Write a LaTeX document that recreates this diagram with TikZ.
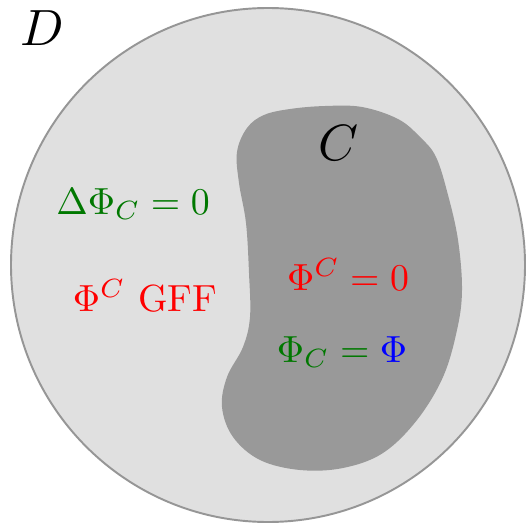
\documentclass[tikz,border=0pt]{standalone}
\usepackage{amsmath}
\usepackage{graphicx}
\usepackage{xcolor}
\usepackage{tikz}
\definecolor{domaingray}{RGB}{224, 224, 224}
\definecolor{clustergray}{RGB}{153, 153, 153}
\definecolor{rimgray}{RGB}{150, 150, 150}
\definecolor{fieldgreen}{RGB}{0, 120, 0}
\newcommand{\biglbl}[1]{\scalebox{2.9}{#1}}
\newcommand{\eqlbl}[1]{\scalebox{2.15}{#1}}

\begin{document}
\begin{tikzpicture}[x=0.02cm, y=-0.02cm,
    biglabel/.style={inner sep=0pt},
    eqlabel/.style={inner sep=0pt, anchor=base}]
    \useasboundingbox (0,0) rectangle (525,527);
    % domain D
    \draw[fill=domaingray, draw=rimgray, line width=1.1pt] (268,265) circle[radius=257];
    % cluster C
    \fill[clustergray] plot[smooth cycle, tension=0.6] coordinates {
        (290,109) (325,106) (362,107) (398,119) (420,137) (436,157)
        (448,195) (458,240) (462,290) (457,330) (443,377) (417,420) (383,453)
        (343,468) (300,470) (260,460) (233,437) (222,407) (227,377) (243,347)
        (250,317) (249,273) (246,223) (239,183) (237,152) (247,128) (264,115)};
    \node[biglabel] (labelD) at (42,28) {\biglbl{$D$}};
    \node[biglabel] (labelC) at (339,143) {\biglbl{$C$}};
    \node[eqlabel, text=fieldgreen] (harmonic) at (133,214) {\eqlbl{$\Delta\Phi_C = 0$}};
    \node[eqlabel, text=red] (gff) at (145,311) {\eqlbl{$\Phi^C$ GFF}};
    \node[eqlabel, text=red] (zero) at (348,290) {\eqlbl{$\Phi^C = 0$}};
    \node[eqlabel, text=fieldgreen] (equal) at (342,362) {\eqlbl{$\Phi_C = \textcolor{blue}{\Phi}$}};
\end{tikzpicture}
\end{document}
